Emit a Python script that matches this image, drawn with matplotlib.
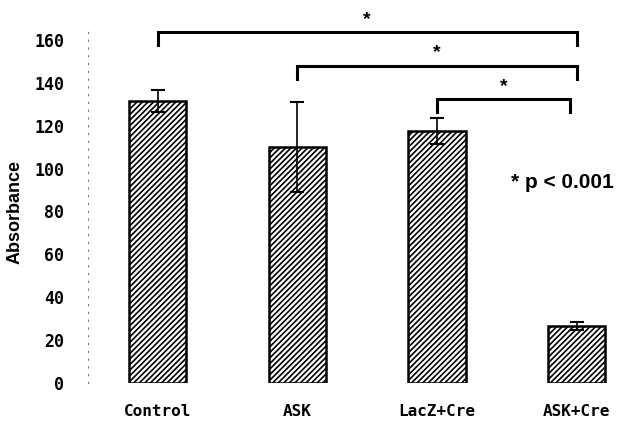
import matplotlib
matplotlib.use("Agg")
import matplotlib.pyplot as plt

categories = ["Control", "ASK", "LacZ+Cre", "ASK+Cre"]
values = [131.5, 110, 117.5, 26.5]
errors = [5, 21, 6, 2]
yticks = [0, 20, 40, 60, 80, 100, 120, 140, 160]
# brackets: (left index, right index, y level, leg drop)
brackets = [(0, 3, 163.5, 6), (1, 3, 148, 6), (2, 2.95, 132.5, 6)]
note = "* p < 0.001"

plt.rcParams['hatch.linewidth'] = 1.2
W, H = 622, 421
fig = plt.figure(figsize=(W / 100, H / 100), dpi=100)
ax = fig.add_axes([88 / W, 38 / H, (W - 88) / W, 383 / H])

x = list(range(len(categories)))
ax.bar(x, values, width=0.41, color="white", edgecolor="black",
       linewidth=1.8, hatch="//////", zorder=2)
ax.errorbar(x, values, yerr=errors, fmt="none", ecolor="black",
            elinewidth=1.2, capsize=5, capthick=1.5, zorder=3)

ax.set_xlim(-0.5, (W - 156.5) / 140)
ax.set_ylim(0, 383 / 2.144)

for s in ["top", "right", "bottom"]:
    ax.spines[s].set_visible(False)
ax.spines["left"].set_linestyle((0, (1, 6)))
ax.spines["left"].set_color("#777777")
ax.spines["left"].set_linewidth(0.8)
ax.spines["left"].set_bounds(0, 165)

ax.set_yticks(yticks)
ax.set_yticklabels([str(t) for t in yticks], family="DejaVu Sans Mono",
                   fontweight="bold", fontsize=12)
ax.tick_params(axis="y", length=0, pad=17)
ax.set_xticks(x)
ax.set_xticklabels(categories, family="DejaVu Sans Mono",
                   fontweight="bold", fontsize=11.5)
ax.tick_params(axis="x", length=0, pad=15)

fig.text(15 / W, 1 - 212 / H, "Absorbance", rotation=90, ha="center",
         va="center", family="Liberation Sans", fontweight="bold",
         fontsize=13)

for (a, b, yl, drop) in brackets:
    ax.plot([a, a, b, b], [yl - drop, yl, yl, yl - drop], color="black",
            lw=2.2, clip_on=False, solid_joinstyle="miter", zorder=4)
    ax.text((a + b) / 2, yl + 2, "*", ha="center", va="bottom",
            fontsize=14, fontweight="bold", family="Liberation Sans",
            clip_on=False)

ax.text(2.9, 93.5, note, ha="center", va="center", fontsize=15,
        fontweight="bold", family="Liberation Sans")

fig.savefig("out.png", dpi=100)
